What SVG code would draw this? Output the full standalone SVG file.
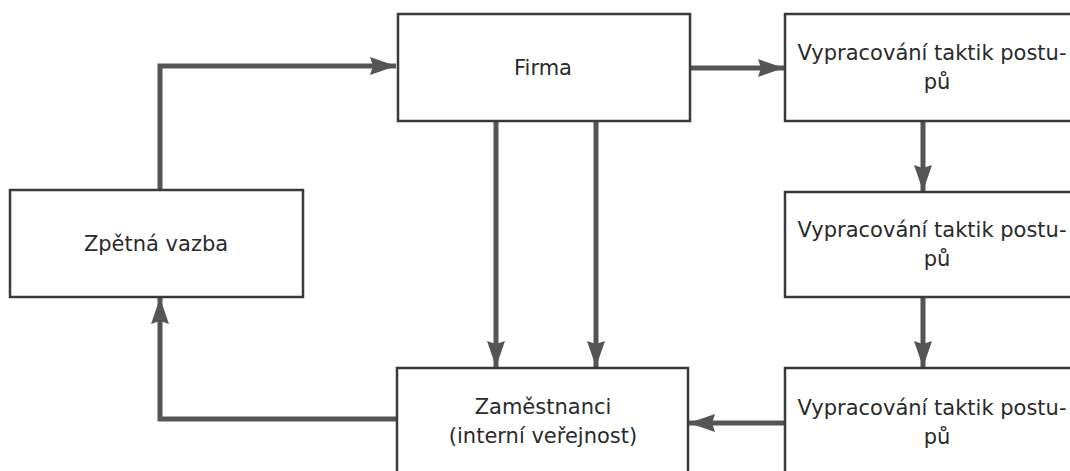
<svg xmlns="http://www.w3.org/2000/svg" width="1070" height="471" viewBox="0 0 1070 471">
<defs>
<style>
.box{fill:#fff;stroke:#3a3a3a;stroke-width:2.5}
.lbl{font-family:"DejaVu Sans",Verdana,sans-serif;font-size:21px;fill:#2a2a2a;text-anchor:middle}
.con{fill:none;stroke:#555;stroke-width:5}
</style>
<marker id="ah" markerUnits="userSpaceOnUse" markerWidth="28" markerHeight="20" refX="26" refY="10" orient="auto">
<path d="M0,1 L26,10 L0,19 L3,10 Z" fill="#555"/>
</marker>
</defs>
<rect width="1070" height="471" fill="#fff"/>
<g id="connectors">
<path class="con" d="M160,190 V66 H396" marker-end="url(#ah)"/>
<path class="con" d="M690,68 H784" marker-end="url(#ah)"/>
<path class="con" d="M496,121 V367" marker-end="url(#ah)"/>
<path class="con" d="M596,121 V367" marker-end="url(#ah)"/>
<path class="con" d="M923,121 V191" marker-end="url(#ah)"/>
<path class="con" d="M923,297 V367" marker-end="url(#ah)"/>
<path class="con" d="M785,423 H689" marker-end="url(#ah)"/>
<path class="con" d="M397,419 H160 V298" marker-end="url(#ah)"/>
</g>
<g id="firma">
<rect class="box" x="398" y="14" width="292" height="107"/>
<text class="lbl" x="543" y="75">Firma</text>
</g>
<g id="zpetna">
<rect class="box" x="10" y="190" width="293" height="107"/>
<text class="lbl" x="156" y="251">Zpětná vazba</text>
</g>
<g id="zamestnanci">
<rect class="box" x="397" y="368" width="291" height="120"/>
<text class="lbl" x="543" y="414">Zaměstnanci</text>
<text class="lbl" x="543" y="443">(interní veřejnost)</text>
</g>
<g id="taktiky1">
<rect class="box" x="785" y="14" width="300" height="107"/>
<text class="lbl" x="932" y="60">Vypracování taktik postu-</text>
<text class="lbl" x="937" y="89">pů</text>
</g>
<g id="taktiky2">
<rect class="box" x="785" y="192" width="300" height="105"/>
<text class="lbl" x="932" y="237">Vypracování taktik postu-</text>
<text class="lbl" x="937" y="266">pů</text>
</g>
<g id="taktiky3">
<rect class="box" x="785" y="368" width="300" height="120"/>
<text class="lbl" x="932" y="415">Vypracování taktik postu-</text>
<text class="lbl" x="937" y="444">pů</text>
</g>
</svg>
